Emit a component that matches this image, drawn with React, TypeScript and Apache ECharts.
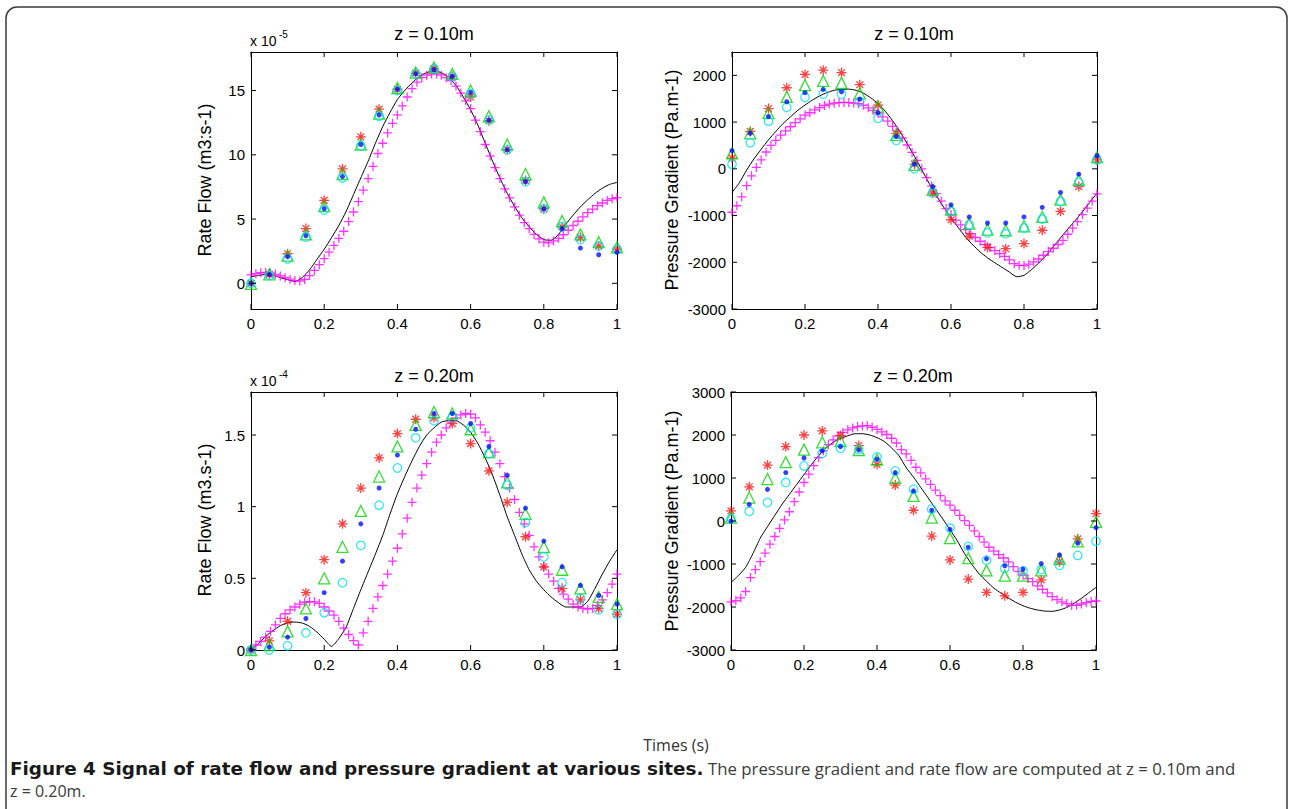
import React, { useEffect, useRef } from "react";
import * as echarts from "echarts";

// ---------- time bases ----------
const tMarkers = [0, 0.05, 0.1, 0.15, 0.2, 0.25, 0.3, 0.35, 0.4, 0.45, 0.5, 0.55, 0.6, 0.65, 0.7, 0.75, 0.8, 0.85, 0.9, 0.95, 1];
const tLine = [0, 0.02, 0.04, 0.06, 0.08, 0.1, 0.12, 0.14, 0.16, 0.18, 0.2, 0.22, 0.24, 0.26, 0.28, 0.3, 0.32, 0.34, 0.36, 0.38, 0.4, 0.42, 0.44, 0.46, 0.48, 0.5, 0.52, 0.54, 0.56, 0.58, 0.6, 0.62, 0.64, 0.66, 0.68, 0.7, 0.72, 0.74, 0.76, 0.78, 0.8, 0.82, 0.84, 0.86, 0.88, 0.9, 0.92, 0.94, 0.96, 0.98, 1];
const DENSE_STEP = 1 / 75; // sampling step of the magenta "+" series

// ---------- tick labels ----------
const xTicks = [0, 0.2, 0.4, 0.6, 0.8, 1];
const yTicksFlow1 = [0, 5, 10, 15];
const yTicksPress1 = [-3000, -2000, -1000, 0, 1000, 2000];
const yTicksFlow2 = [0, 0.5, 1, 1.5];
const yTicksPress2 = [-3000, -2000, -1000, 0, 1000, 2000, 3000];

// ---------- panel 1 : rate flow z = 0.10 m (x 1e-5) ----------
const black1 = [0.5, 0.62, 0.68, 0.62, 0.45, 0.28, 0.14, 0.45, 1.05, 1.85, 2.65, 3.55, 4.5, 5.6, 6.9, 8.2, 9.5, 10.9, 12.2, 13.3, 14.3, 15.0, 15.6, 16.1, 16.4, 16.5, 16.4, 16.0, 15.4, 14.5, 13.5, 12.3, 10.9, 9.5, 8.2, 7.0, 6.0, 5.1, 4.4, 3.8, 3.4, 3.35, 3.8, 4.6, 5.3, 5.95, 6.5, 7.0, 7.4, 7.7, 7.85];
const mag1 = [0.65, 0.75, 0.82, 0.85, 0.8, 0.7, 0.57, 0.44, 0.32, 0.21, 0.18, 0.3, 0.6, 1.0, 1.45, 1.92, 2.42, 2.95, 3.5, 4.05, 4.8, 5.55, 6.35, 7.25, 8.15, 9.1, 10.1, 10.9, 11.7, 12.45, 13.1, 13.8, 14.5, 15.15, 15.65, 16.0, 16.2, 16.29, 16.29, 16.2, 16.0, 15.78, 15.35, 14.8, 14.2, 13.6, 12.7, 11.8, 10.8, 9.9, 9.0, 8.15, 7.35, 6.65, 5.95, 5.3, 4.72, 4.25, 3.8, 3.45, 3.2, 3.15, 3.3, 3.5, 3.78, 4.13, 4.5, 4.83, 5.17, 5.5, 5.78, 6.04, 6.25, 6.45, 6.58, 6.66];
const red1 = [0, 0.7, 2.3, 4.26, 6.45, 8.9, 11.4, 13.55, 15.1, 16.35, 16.7, 16.1, 14.5, 12.65, 10.4, 8.0, 5.8, 4.4, 3.56, 2.9, 2.65];
const green1 = [-0.05, 0.7, 2.15, 3.8, 6.0, 8.5, 10.8, 13.2, 15.2, 16.4, 16.8, 16.3, 15.0, 13.0, 10.8, 8.5, 6.3, 4.85, 3.8, 3.2, 2.8];
const blue1 = [0, 0.67, 2.07, 3.7, 5.8, 8.3, 10.8, 13.1, 15.1, 16.3, 16.65, 16.1, 14.85, 12.7, 10.4, 7.9, 5.8, 4.26, 2.74, 2.22, 2.4];
const cyan1 = [0, 0.6, 1.9, 3.6, 5.7, 8.2, 10.7, 13.0, 15.0, 16.3, 16.7, 16.1, 14.75, 12.7, 10.4, 7.9, 5.8, 4.4, 3.4, 2.9, 2.65];

// ---------- panel 2 : pressure gradient z = 0.10 m ----------
const black2 = [-505, -300, -30, 210, 420, 620, 800, 970, 1110, 1250, 1365, 1470, 1560, 1630, 1680, 1700, 1705, 1680, 1620, 1520, 1400, 1230, 1030, 800, 540, 265, -20, -310, -570, -820, -1050, -1260, -1460, -1630, -1780, -1905, -2010, -2110, -2210, -2310, -2280, -2160, -2020, -1860, -1670, -1480, -1290, -1110, -920, -720, -520];
const mag2 = [-930, -790, -600, -360, -150, 30, 190, 360, 500, 610, 720, 810, 900, 990, 1070, 1150, 1200, 1260, 1310, 1355, 1385, 1405, 1418, 1420, 1415, 1408, 1395, 1360, 1305, 1250, 1190, 1110, 1020, 910, 800, 660, 510, 350, 180, 0, -190, -370, -530, -690, -850, -980, -1100, -1200, -1300, -1390, -1470, -1550, -1620, -1685, -1750, -1815, -1875, -1950, -2030, -2065, -2070, -2040, -1990, -1930, -1850, -1770, -1700, -1620, -1530, -1400, -1270, -1130, -980, -840, -690, -535];
const red2 = [230, 800, 1290, 1735, 2020, 2110, 2060, 1800, 1365, 760, 100, -520, -1090, -1440, -1680, -1710, -1600, -1315, -910, -380, 190];
const green2 = [330, 760, 1190, 1540, 1790, 1880, 1840, 1615, 1330, 725, 85, -450, -875, -1175, -1300, -1315, -1230, -1030, -660, -235, 250];
const blue2 = [390, 760, 1120, 1435, 1630, 1700, 1650, 1490, 1200, 690, 100, -380, -770, -1030, -1160, -1160, -1030, -825, -505, -115, 280];
const cyan2 = [100, 560, 1020, 1315, 1530, 1600, 1600, 1440, 1080, 605, 0, -520, -910, -1195, -1370, -1390, -1265, -1075, -700, -290, 190];

// ---------- panel 3 : rate flow z = 0.20 m (x 1e-4) ----------
const black3 = [0, 0.045, 0.095, 0.135, 0.17, 0.19, 0.195, 0.188, 0.165, 0.125, 0.075, 0.025, 0.08, 0.16, 0.29, 0.42, 0.545, 0.67, 0.8, 0.95, 1.09, 1.21, 1.32, 1.42, 1.5, 1.55, 1.59, 1.6, 1.6, 1.57, 1.52, 1.44, 1.34, 1.22, 1.08, 0.93, 0.8, 0.67, 0.56, 0.48, 0.42, 0.37, 0.33, 0.3, 0.3, 0.3, 0.34, 0.43, 0.53, 0.62, 0.7];
const mag3 = [0.01, 0.035, 0.06, 0.09, 0.13, 0.175, 0.22, 0.253, 0.28, 0.3, 0.32, 0.333, 0.338, 0.336, 0.325, 0.3, 0.272, 0.243, 0.2, 0.152, 0.108, 0.066, 0.035, 0.12, 0.2, 0.29, 0.37, 0.45, 0.53, 0.62, 0.71, 0.81, 0.92, 1.03, 1.13, 1.22, 1.3, 1.38, 1.45, 1.5, 1.55, 1.59, 1.62, 1.64, 1.65, 1.645, 1.62, 1.57, 1.52, 1.46, 1.38, 1.3, 1.21, 1.13, 1.05, 0.96, 0.88, 0.8, 0.72, 0.65, 0.58, 0.53, 0.48, 0.43, 0.39, 0.355, 0.32, 0.3, 0.29, 0.285, 0.29, 0.31, 0.35, 0.4, 0.46, 0.53];
const red3 = [0, 0.063, 0.2, 0.4, 0.63, 0.88, 1.13, 1.34, 1.51, 1.61, 1.62, 1.58, 1.44, 1.25, 1.03, 0.79, 0.58, 0.43, 0.35, 0.29, 0.25];
const green3 = [0, 0.035, 0.13, 0.29, 0.5, 0.72, 0.97, 1.21, 1.42, 1.57, 1.66, 1.65, 1.54, 1.38, 1.17, 0.95, 0.72, 0.56, 0.43, 0.37, 0.32];
const blue3 = [0, 0.02, 0.09, 0.22, 0.4, 0.62, 0.88, 1.13, 1.36, 1.54, 1.65, 1.65, 1.58, 1.42, 1.22, 0.99, 0.76, 0.58, 0.45, 0.38, 0.32];
const cyan3 = [0, 0.0, 0.03, 0.12, 0.26, 0.47, 0.73, 1.01, 1.27, 1.48, 1.6, 1.62, 1.55, 1.37, 1.15, 0.89, 0.65, 0.47, 0.36, 0.28, 0.25];

// ---------- panel 4 : pressure gradient z = 0.20 m ----------
const black4 = [-1430, -1270, -1080, -760, -400, -130, 130, 390, 620, 850, 1080, 1310, 1520, 1700, 1830, 1920, 1980, 2030, 2030, 2000, 1940, 1850, 1700, 1520, 1240, 1020, 780, 540, 290, 50, -200, -460, -760, -1010, -1230, -1400, -1560, -1680, -1790, -1890, -1970, -2030, -2070, -2095, -2100, -2070, -2010, -1910, -1800, -1670, -1545];
const mag4 = [-1880, -1850, -1790, -1640, -1315, -1130, -945, -745, -540, -360, -170, 25, 215, 450, 675, 895, 1090, 1290, 1475, 1635, 1775, 1885, 1980, 2060, 2120, 2165, 2195, 2212, 2218, 2180, 2130, 2072, 2012, 1924, 1814, 1660, 1560, 1410, 1250, 1120, 980, 850, 720, 590, 470, 370, 250, 130, 10, -100, -230, -360, -490, -610, -700, -780, -860, -950, -1060, -1170, -1260, -1340, -1410, -1510, -1590, -1670, -1760, -1830, -1880, -1920, -1960, -1960, -1930, -1900, -1870, -1860];
const red4 = [235, 795, 1300, 1730, 2000, 2095, 1990, 1755, 1315, 835, 250, -350, -905, -1350, -1660, -1740, -1660, -1370, -945, -415, 170];
const green4 = [80, 545, 975, 1370, 1660, 1830, 1860, 1650, 1430, 1000, 585, 80, -400, -865, -1150, -1270, -1270, -1150, -880, -475, -20];
const blue4 = [0, 385, 735, 1125, 1465, 1630, 1730, 1650, 1440, 1125, 700, 250, -195, -610, -880, -1040, -1120, -990, -790, -515, -155];
const cyan4 = [50, 225, 430, 895, 1280, 1575, 1690, 1660, 1490, 1165, 740, 275, -165, -590, -910, -1100, -1155, -1130, -1030, -800, -470];

// ---------- texts ----------
const panelTitles = ["z = 0.10m", "z = 0.10m", "z = 0.20m", "z = 0.20m"];
const yNames = ["Rate Flow (m3:s-1)", "Pressure Gradient (Pa.m-1)", "Rate Flow (m3.s-1)", "Pressure Gradient (Pa.m-1)"];
const xName = "Times (s)";
const captionBold = "Figure 4 Signal of rate flow and pressure gradient at various sites.";
const captionRest = "The pressure gradient and rate flow are computed at z = 0.10m and";
const captionLine2 = "z = 0.20m.";

const FONT = "'Liberation Sans', Arial, Helvetica, sans-serif";
const PLUS = "path://M5,0L5,10M0,5L10,5";
const STAR = "path://M5,0L5,10M0,5L10,5M1.6,1.6L8.4,8.4M1.6,8.4L8.4,1.6";
const TICK_LEN = 5;

const grids = [
  { left: 251, top: 52, width: 366, height: 257 },
  { left: 732, top: 52, width: 365, height: 257 },
  { left: 251, top: 392, width: 366, height: 258 },
  { left: 731, top: 392, width: 365, height: 258 },
];
const yRanges = [
  { min: -2, max: 18, ticks: yTicksFlow1 },
  { min: -3000, max: 2500, ticks: yTicksPress1 },
  { min: 0, max: 1.8, ticks: yTicksFlow2 },
  { min: -3000, max: 3000, ticks: yTicksPress2 },
];

const panels = [
  { black: black1, mag: mag1, red: red1, green: green1, blue: blue1, cyan: cyan1 },
  { black: black2, mag: mag2, red: red2, green: green2, blue: blue2, cyan: cyan2 },
  { black: black3, mag: mag3, red: red3, green: green3, blue: blue3, cyan: cyan3 },
  { black: black4, mag: mag4, red: red4, green: green4, blue: blue4, cyan: cyan4 },
];

const plain = (v: number) => String(v);

function buildOption() {
  const xAxis: any[] = [];
  const yAxis: any[] = [];
  const series: any[] = [];
  const line = { show: true, onZero: false, lineStyle: { color: "#000", width: 1 } };

  grids.forEach((_, g) => {
    const yr = yRanges[g];
    xAxis.push({
      gridIndex: g, type: "value", min: 0, max: 1, interval: 0.2, position: "bottom",
      axisLine: line, splitLine: { show: false }, axisTick: { show: false },
      axisLabel: { color: "#000", fontSize: 15, fontFamily: FONT, margin: 7, formatter: plain },
    });
    xAxis.push({
      gridIndex: g, type: "value", min: 0, max: 1, interval: 0.2, position: "top",
      axisLine: line, splitLine: { show: false }, axisTick: { show: false }, axisLabel: { show: false },
    });
    yAxis.push({
      gridIndex: g, type: "value", min: yr.min, max: yr.max, position: "left",
      axisLine: line, splitLine: { show: false }, axisTick: { show: false },
      axisLabel: { color: "#000", fontSize: 15, fontFamily: FONT, margin: 6, customValues: yr.ticks, formatter: plain },
    });
    yAxis.push({
      gridIndex: g, type: "value", min: yr.min, max: yr.max, position: "right",
      axisLine: line, splitLine: { show: false }, axisTick: { show: false }, axisLabel: { show: false },
    });

    const p = panels[g];
    const xi = 2 * g;
    const yi = 2 * g;
    const common = { xAxisIndex: xi, yAxisIndex: yi, silent: true, animation: false };

    // inward tick marks on all four sides, placed through the axes' own scales
    const tickStyle = { stroke: "#000", lineWidth: 1 };
    series.push({
      ...common, type: "custom", z: 20, clip: false,
      data: [
        ...xTicks.map((v) => [v, yr.min, 0]),
        ...yr.ticks.map((v) => [0, v, 1]),
      ],
      renderItem: (_params: any, api: any) => {
        const kind = api.value(2);
        if (kind === 0) {
          const v = api.value(0);
          const b = api.coord([v, yr.min]);
          const t = api.coord([v, yr.max]);
          return {
            type: "group",
            children: [
              { type: "line", shape: { x1: b[0], y1: b[1], x2: b[0], y2: b[1] - TICK_LEN }, style: tickStyle },
              { type: "line", shape: { x1: t[0], y1: t[1], x2: t[0], y2: t[1] + TICK_LEN }, style: tickStyle },
            ],
          };
        }
        const v = api.value(1);
        const l = api.coord([0, v]);
        const r = api.coord([1, v]);
        return {
          type: "group",
          children: [
            { type: "line", shape: { x1: l[0], y1: l[1], x2: l[0] + TICK_LEN, y2: l[1] }, style: tickStyle },
            { type: "line", shape: { x1: r[0], y1: r[1], x2: r[0] - TICK_LEN, y2: r[1] }, style: tickStyle },
          ],
        };
      },
    });

    series.push({
      ...common, type: "line", z: 2, smooth: 0.2, showSymbol: false,
      lineStyle: { color: "#000", width: 1 },
      data: tLine.map((t, i) => [t, p.black[i]]),
    });
    series.push({
      ...common, type: "scatter", z: 3, symbol: PLUS, symbolSize: 9,
      itemStyle: { color: "rgba(0,0,0,0)", borderColor: "#ff00ff", borderWidth: 1.3 },
      data: p.mag.map((v, i) => [i * DENSE_STEP, v]),
    });
    series.push({
      ...common, type: "scatter", z: 4, symbol: STAR, symbolSize: 10,
      itemStyle: { color: "rgba(0,0,0,0)", borderColor: "#ff1010", borderWidth: 1.3 },
      data: tMarkers.map((t, i) => [t, p.red[i]]),
    });
    series.push({
      ...common, type: "scatter", z: 5, symbol: "triangle", symbolSize: 11,
      itemStyle: { color: "rgba(0,0,0,0)", borderColor: "#00d400", borderWidth: 1.3 },
      data: tMarkers.map((t, i) => [t, p.green[i]]),
    });
    series.push({
      ...common, type: "scatter", z: 6, symbol: "circle", symbolSize: 8.5,
      itemStyle: { color: "rgba(0,0,0,0)", borderColor: "#00e0f0", borderWidth: 1.3 },
      data: tMarkers.map((t, i) => [t, p.cyan[i]]),
    });
    series.push({
      ...common, type: "scatter", z: 7, symbol: "circle", symbolSize: 5,
      itemStyle: { color: "#0010ff", borderWidth: 0 },
      data: tMarkers.map((t, i) => [t, p.blue[i]]),
    });
  });

  const titleCenters = [
    [434, 34], [914, 34], [434, 376], [913, 376],
  ];
  const nameCenters = [
    [205, 180], [672, 180], [205, 520], [672, 521],
  ];
  const center = { align: "center", verticalAlign: "middle", textAlign: "center", textVerticalAlign: "middle" };
  const leftMid = { align: "left", verticalAlign: "middle", textAlign: "left", textVerticalAlign: "middle" };
  const graphic: any[] = [
    {
      type: "rect", z: -10, silent: true,
      shape: { x: 6, y: 7, width: 1281, height: 860, r: 11 },
      style: { fill: "#fff", stroke: "#3a3a3a", lineWidth: 1.5 },
    },
  ];
  panelTitles.forEach((t, g) => {
    graphic.push({
      type: "text", x: titleCenters[g][0], y: titleCenters[g][1], silent: true,
      style: { text: t, font: `18px ${FONT}`, fill: "#000", ...center },
    });
  });
  yNames.forEach((t, g) => {
    graphic.push({
      type: "text", x: nameCenters[g][0], y: nameCenters[g][1], rotation: Math.PI / 2, silent: true,
      style: { text: t, font: `18px ${FONT}`, fill: "#000", ...center },
    });
  });
  const expo = [
    { x: 250, y: 41, e: "-5" },
    { x: 250, y: 381, e: "-4" },
  ];
  expo.forEach((e) => {
    graphic.push({
      type: "text", x: e.x, y: e.y, silent: true,
      style: { text: "x 10", font: `14px ${FONT}`, fill: "#000", ...leftMid },
    });
    graphic.push({
      type: "text", x: e.x + 29, y: e.y - 7, silent: true,
      style: { text: e.e, font: `10px ${FONT}`, fill: "#000", ...leftMid },
    });
  });
  graphic.push({
    type: "text", x: 676, y: 745, silent: true,
    style: { text: xName, font: `16px 'Open Sans', sans-serif`, fill: "#333", ...center },
  });
  graphic.push({
    type: "text", x: 10, y: 768, silent: true,
    style: { text: captionBold, font: `bold 18.4px 'DejaVu Sans', sans-serif`, fill: "#1a1a1a", ...leftMid },
  });
  graphic.push({
    type: "text", x: 708, y: 768, silent: true,
    style: { text: captionRest, font: `16.8px 'Open Sans', sans-serif`, fill: "#3a3a3a", ...leftMid },
  });
  graphic.push({
    type: "text", x: 10, y: 791, silent: true,
    style: { text: captionLine2, font: `16px 'Open Sans', sans-serif`, fill: "#3a3a3a", ...leftMid },
  });

  return {
    animation: false,
    backgroundColor: "#fff",
    grid: grids.map((g) => ({ ...g, show: false })),
    xAxis,
    yAxis,
    series,
    graphic,
  };
}

export default function App() {
  const ref = useRef<HTMLDivElement>(null);
  useEffect(() => {
    if (!ref.current) return;
    const chart = echarts.init(ref.current, undefined, { renderer: "svg" });
    chart.setOption(buildOption() as any);
    return () => chart.dispose();
  }, []);
  return (
    <div
      ref={ref}
      style={{ position: "absolute", left: 0, top: 0, width: 1289, height: 809, background: "#fff" }}
    />
  );
}
